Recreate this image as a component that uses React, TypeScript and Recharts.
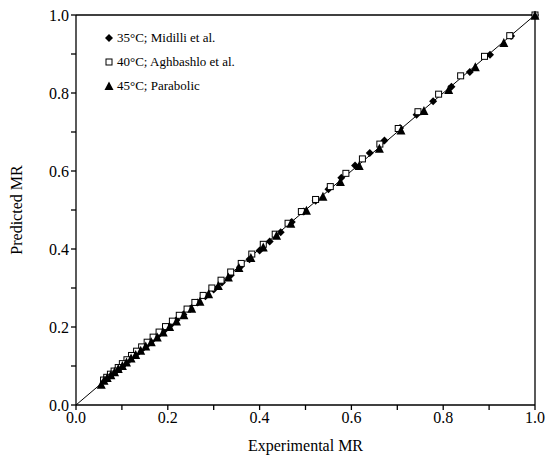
import { ScatterChart, Scatter, XAxis, YAxis, ReferenceLine } from "recharts";

// Experimental vs predicted moisture ratio
const exp35 = [1.0, 0.948, 0.902, 0.858, 0.818, 0.778, 0.742, 0.706, 0.672, 0.64, 0.608, 0.578, 0.55, 0.522, 0.496, 0.47, 0.446, 0.422, 0.4, 0.378, 0.357, 0.337, 0.318, 0.3, 0.282, 0.265, 0.249, 0.234, 0.219, 0.205, 0.192, 0.179, 0.167, 0.156, 0.145, 0.135, 0.125, 0.116, 0.107, 0.099, 0.091, 0.083];
const pred35 = [1.0, 0.946, 0.898, 0.854, 0.816, 0.779, 0.744, 0.71, 0.678, 0.646, 0.614, 0.583, 0.553, 0.524, 0.496, 0.469, 0.443, 0.419, 0.396, 0.374, 0.353, 0.333, 0.314, 0.296, 0.279, 0.263, 0.247, 0.232, 0.218, 0.204, 0.191, 0.179, 0.167, 0.156, 0.145, 0.135, 0.126, 0.117, 0.108, 0.1, 0.093, 0.086];

const exp40 = [1.0, 0.945, 0.89, 0.838, 0.79, 0.745, 0.702, 0.662, 0.624, 0.588, 0.554, 0.522, 0.491, 0.462, 0.434, 0.408, 0.383, 0.36, 0.337, 0.316, 0.296, 0.277, 0.259, 0.242, 0.225, 0.21, 0.195, 0.181, 0.168, 0.155, 0.143, 0.132, 0.121, 0.111, 0.101, 0.092, 0.083, 0.075, 0.067, 0.06];
const pred40 = [1.0, 0.947, 0.894, 0.844, 0.797, 0.752, 0.709, 0.669, 0.631, 0.594, 0.56, 0.527, 0.496, 0.466, 0.438, 0.412, 0.387, 0.363, 0.341, 0.32, 0.3, 0.281, 0.263, 0.246, 0.23, 0.215, 0.201, 0.187, 0.174, 0.161, 0.149, 0.138, 0.127, 0.116, 0.106, 0.096, 0.087, 0.079, 0.071, 0.064];

const exp45 = [1.0, 0.932, 0.87, 0.812, 0.758, 0.708, 0.661, 0.617, 0.576, 0.538, 0.502, 0.468, 0.437, 0.408, 0.381, 0.355, 0.332, 0.31, 0.289, 0.27, 0.252, 0.235, 0.219, 0.204, 0.19, 0.177, 0.164, 0.152, 0.141, 0.13, 0.12, 0.11, 0.101, 0.092, 0.084, 0.076, 0.068, 0.061, 0.055];
const pred45 = [0.998, 0.928, 0.866, 0.808, 0.754, 0.704, 0.657, 0.613, 0.572, 0.534, 0.498, 0.465, 0.434, 0.404, 0.377, 0.351, 0.327, 0.305, 0.284, 0.265, 0.247, 0.23, 0.214, 0.2, 0.186, 0.173, 0.161, 0.15, 0.139, 0.128, 0.119, 0.109, 0.1, 0.092, 0.084, 0.076, 0.069, 0.062, 0.052];

const ticks = [0, 0.1, 0.2, 0.3, 0.4, 0.5, 0.6, 0.7, 0.8, 0.9, 1.0];
const seriesNames = ["35°C; Midilli et al.", "40°C; Aghbashlo et al.", "45°C; Parabolic"];

const zip = (xs: number[], ys: number[]) => xs.map((x, i) => ({ x, y: ys[i] }));

const FONT = "'Liberation Serif', 'Times New Roman', serif";

const Diamond = (props: any) => {
	const { cx, cy } = props;
	const r = 4;
	return <path d={`M${cx},${cy - r}L${cx + r},${cy}L${cx},${cy + r}L${cx - r},${cy}Z`} fill="#000" />;
};

const Square = (props: any) => {
	const { cx, cy } = props;
	const s = 6;
	return <rect x={cx - s / 2} y={cy - s / 2} width={s} height={s} fill="#fff" stroke="#000" strokeWidth={1} />;
};

const Triangle = (props: any) => {
	const { cx, cy } = props;
	const h = 8;
	return <path d={`M${cx},${cy - h / 2 - 1}L${cx + 4.5},${cy + h / 2}L${cx - 4.5},${cy + h / 2}Z`} fill="#000" />;
};

const tickFmt = (v: number) => (Math.round(v * 10) % 2 === 0 ? v.toFixed(1) : "");

// legend drawn as an overlay so it does not take space from the plot
const LegendBox = () => {
	const icons = [
		<path d="M5,1L9,5L5,9L1,5Z" fill="#000" />,
		<rect x={2} y={2} width={6} height={6} fill="#fff" stroke="#000" />,
		<path d="M5,0.5L9.5,9L0.5,9Z" fill="#000" />,
	];
	return (
		<div style={{ position: "absolute", left: 104, top: 26, fontFamily: FONT, fontSize: 13, color: "#000" }}>
			{seriesNames.map((name, i) => (
				<div key={name} style={{ display: "flex", alignItems: "center", height: 24 }}>
					<svg width={10} height={10} style={{ marginRight: 3 }}>{icons[i]}</svg>
					<span>{name}</span>
				</div>
			))}
		</div>
	);
};

export default function App() {
	return (
		<div style={{ position: "absolute", left: 0, top: 0, width: 548, height: 462, background: "#fff" }}>
			<ScatterChart width={548} height={462} margin={{ top: 15, right: 13, left: 16, bottom: 7 }}>
				<XAxis
					type="number"
					dataKey="x"
					domain={[0, 1]}
					ticks={ticks}
					tickFormatter={tickFmt}
					interval={0}
					height={50}
					stroke="#000"
					strokeWidth={1.3}
					tickSize={5}
					tick={{ fill: "#000", fontSize: 16, fontFamily: FONT }}
					label={{ value: "Experimental MR", position: "insideBottom", offset: 4, fill: "#000", fontSize: 16, fontFamily: FONT }}
				/>
				<YAxis
					type="number"
					dataKey="y"
					domain={[0, 1]}
					ticks={ticks}
					tickFormatter={tickFmt}
					interval={0}
					width={60}
					stroke="#000"
					strokeWidth={1.3}
					tickSize={5}
					tick={{ fill: "#000", fontSize: 16, fontFamily: FONT }}
					label={{ value: "Predicted MR", angle: -90, position: "insideLeft", offset: 0, dx: 0, style: { textAnchor: "middle" }, fill: "#000", fontSize: 16, fontFamily: FONT }}
				/>
				<ReferenceLine y={1} stroke="#000" strokeWidth={1.3} />
				<ReferenceLine x={1} stroke="#000" strokeWidth={1.3} />
				<ReferenceLine segment={[{ x: 0, y: 0 }, { x: 1, y: 1 }]} stroke="#000" strokeWidth={1} />
				<Scatter name={seriesNames[0]} data={zip(exp35, pred35)} shape={<Diamond />} isAnimationActive={false} />
				<Scatter name={seriesNames[1]} data={zip(exp40, pred40)} shape={<Square />} isAnimationActive={false} />
				<Scatter name={seriesNames[2]} data={zip(exp45, pred45)} shape={<Triangle />} isAnimationActive={false} />
			</ScatterChart>
			<LegendBox />
		</div>
	);
}
